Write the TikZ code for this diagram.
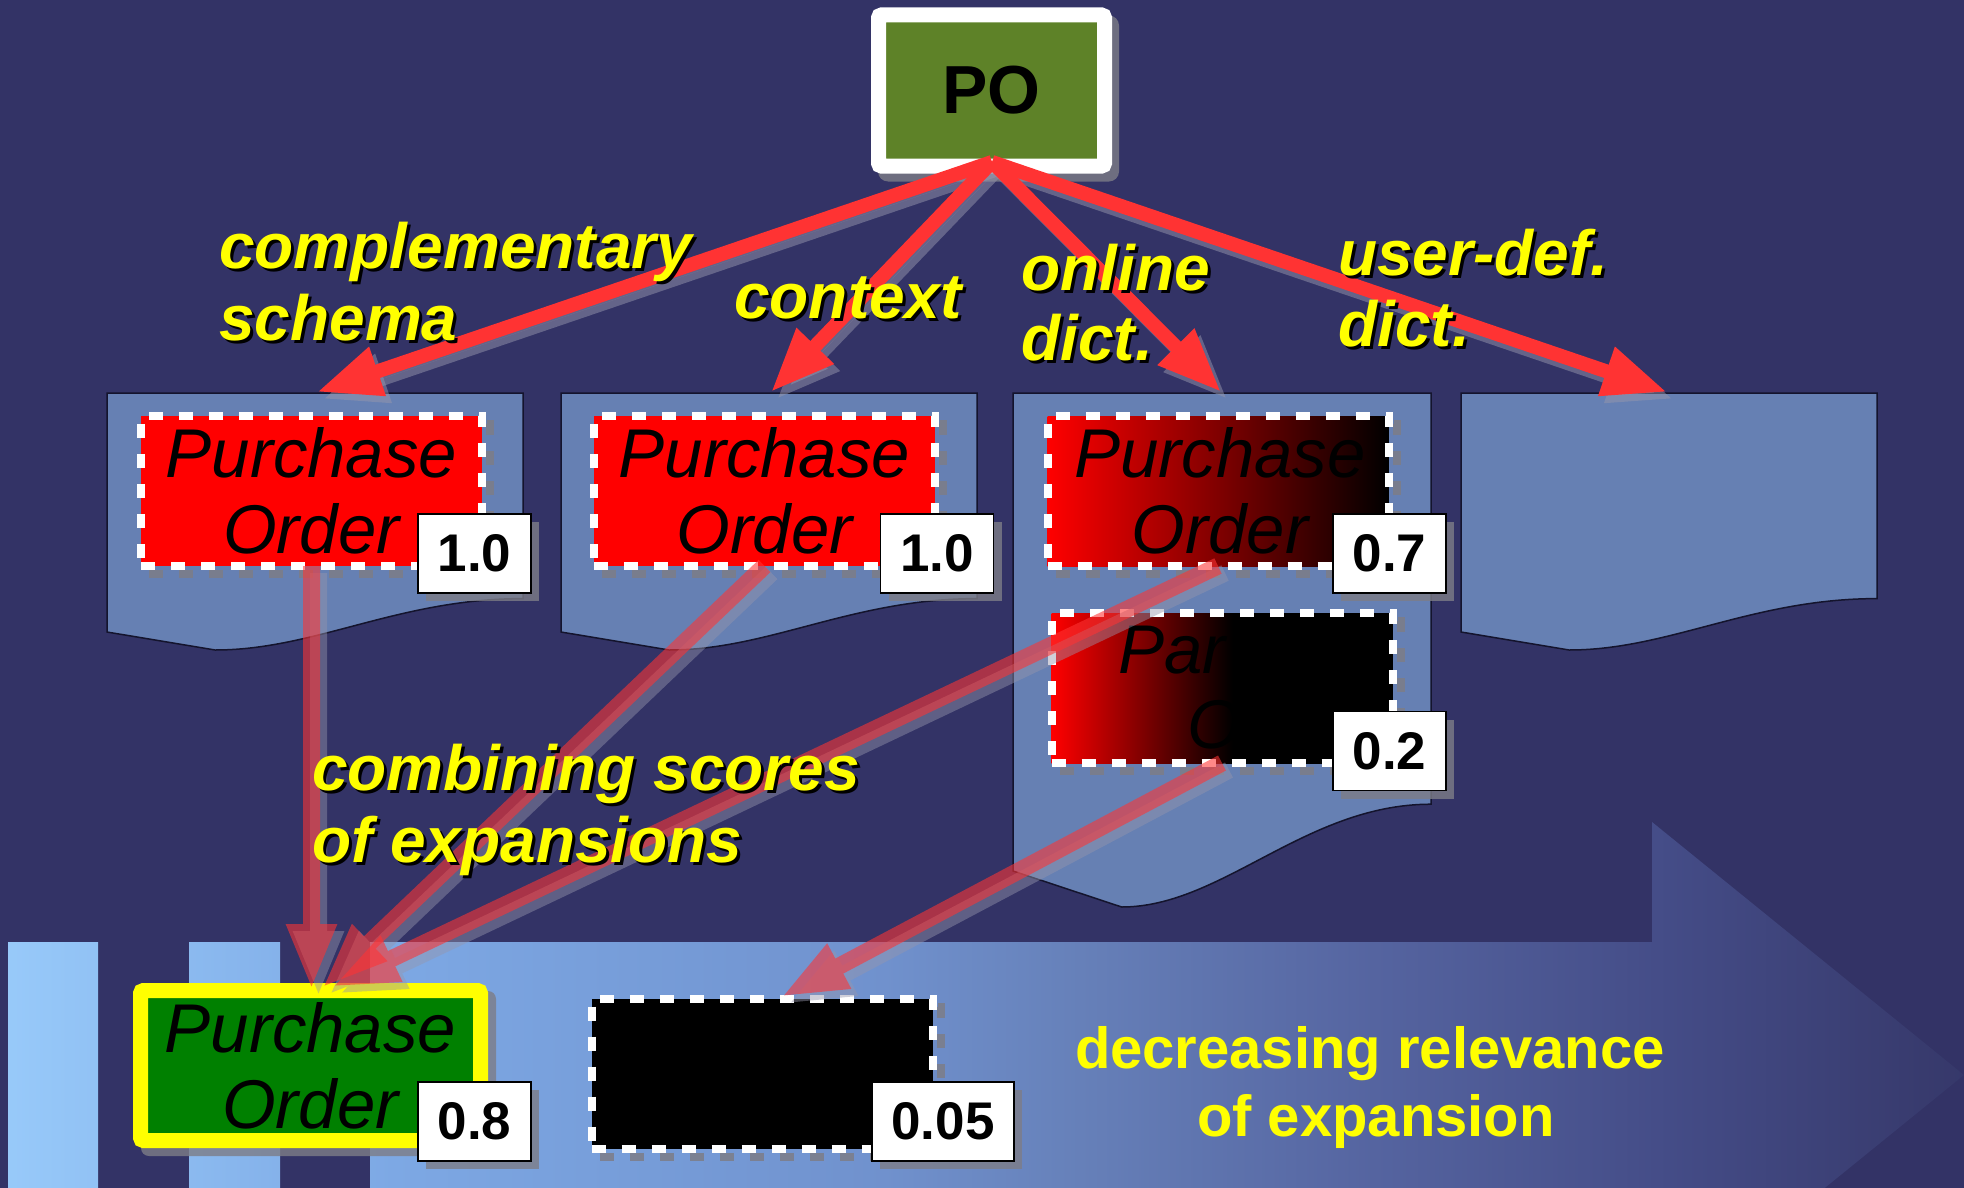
\documentclass[tikz,border=0pt]{standalone}
\usepackage{fontspec}
\setmainfont{Liberation Sans}
\usetikzlibrary{arrows.meta}

\definecolor{navy}{RGB}{51,51,102}
\definecolor{panelblue}{RGB}{102,128,179}
\definecolor{panelline}{RGB}{20,20,45}
\definecolor{poGreen}{RGB}{94,130,40}
\definecolor{resGreen}{RGB}{0,128,0}
\definecolor{arrowred}{RGB}{255,51,51}
\definecolor{boxshadow}{RGB}{125,125,135}
\definecolor{rayshadow}{RGB}{150,150,172}
\definecolor{labelyellow}{RGB}{255,255,0}

\pgfdeclarelayer{back}
\pgfdeclarelayer{shade}
\pgfdeclarelayer{front}
\pgfdeclarelayer{top}
\pgfsetlayers{back,shade,main,front,top}

% light blue fading to the background, left to right
\pgfdeclarehorizontalshading{relevance}{100bp}{%
  rgb(0bp)=(0.596,0.792,0.980);
  rgb(25bp)=(0.596,0.792,0.980);
  rgb(35bp)=(0.490,0.659,0.894);
  rgb(47.5bp)=(0.439,0.569,0.804);
  rgb(52.5bp)=(0.400,0.502,0.725);
  rgb(60bp)=(0.333,0.392,0.627);
  rgb(67.5bp)=(0.267,0.298,0.529);
  rgb(75bp)=(0.212,0.220,0.416);
  rgb(100bp)=(0.212,0.220,0.416)}

% red turning black about halfway across
\pgfdeclarehorizontalshading{redfade}{100bp}{%
  rgb(0bp)=(1,0,0); rgb(25bp)=(1,0,0);
  rgb(51.5bp)=(0,0,0); rgb(100bp)=(0,0,0)}

% yellow text with a small black drop shadow
\newcommand\shtext[1]{\makebox[0pt][l]{\hspace{3pt}\raisebox{-3pt}{\color{black}#1}}#1}

% document sheet with a wavy lower edge: left, top, width, depth
\newcommand\docpanel[4]{%
  \filldraw[docsheet] (#1,#2) -- (#1+#3,#2) -- (#1+#3,#2+0.8*#4)
    .. controls (#1+0.7*#3,#2+0.8*#4) and (#1+0.5*#3,#2+#4) .. (#1+0.26*#3,#2+#4)
    -- (#1,#2+0.93*#4) -- cycle;}

\tikzset{
  docsheet/.style={fill=panelblue, draw=panelline, line width=1.5pt},
  pobox/.style={rectangle, draw=white, line width=15pt, fill=poGreen,
    rounded corners=3pt, minimum width=226pt, minimum height=151pt,
    inner sep=0pt, font={\fontsize{68}{76}\selectfont\bfseries}},
  dashbox/.style={rectangle, inner sep=0pt, outer sep=0pt,
    minimum width=341pt, minimum height=150pt, draw=white,
    line width=8pt, dash pattern=on 14pt off 16pt},
  redbox/.style={dashbox, fill=red},
  fadebox/.style={dashbox, left color=red, right color=black},
  partbox/.style={dashbox, shade, shading=redfade},
  blackbox/.style={dashbox, fill=black},
  resultbox/.style={rectangle, draw=labelyellow, line width=15pt, fill=resGreen,
    rounded corners=3pt, minimum width=340pt, minimum height=150pt, inner sep=0pt},
  potext/.style={inner sep=0pt, anchor=base, text=black,
    font={\fontsize{69}{76}\selectfont\itshape}},
  score/.style={rectangle, draw=black, line width=1.5pt, fill=white,
    inner sep=0pt, outer sep=0pt, minimum width=113pt, minimum height=79pt,
    font={\fontsize{53}{60}\selectfont\bfseries}},
  labeltext/.style={inner sep=0pt, anchor=base west, text=labelyellow,
    font={\fontsize{64}{72}\selectfont\bfseries\itshape}},
  reltext/.style={inner sep=0pt, anchor=base, text=labelyellow,
    font={\fontsize{58}{66}\selectfont\bfseries}},
  boxshade/.style={fill=boxshadow, fill opacity=0.8},
  dashshade/.style={draw=boxshadow, draw opacity=0.85, line width=8pt,
    dash pattern=on 14pt off 16pt},
  ray/.style={draw=arrowred, line width=14pt,
    -{Triangle[length=64pt,width=48pt]}},
  rayshade/.style={ray, draw=rayshadow, fill=rayshadow, opacity=0.5,
    transform canvas={shift={(6,7)}}},
  merge/.style={draw=arrowred, line width=17pt,
    -{Triangle[length=66pt,width=46pt]}},
  mergeshade/.style={merge, draw=rayshadow, fill=rayshadow,
    transform canvas={shift={(7,7)}}},
}

\begin{document}
\begin{tikzpicture}[x=1pt,y=-1pt]
\useasboundingbox (0,0) rectangle (1964,1188);

% ---------- background, relevance arrow, document sheets ----------
\begin{pgfonlayer}{back}
  \fill[navy] (0,0) rectangle (1964,1188);
  \begin{scope}
    \clip (8,942) rectangle (98,1188)
          (189,942) rectangle (280,1188)
          (370,942) -- (1652,942) -- (1652,822) -- (1964,1075)
          -- (1652,1328) -- (1652,1188) -- (370,1188) -- cycle;
    \shade[shading=relevance] (0,800) rectangle (1964,1188);
  \end{scope}
  \docpanel{107}{393}{416}{257}
  \docpanel{561}{393}{416}{257}
  \docpanel{1013}{393}{418}{514}
  \docpanel{1461}{393}{416}{257}
\end{pgfonlayer}

% ---------- query term ----------
\node[pobox] (po) at (991.5,90.5) {PO};

% ---------- candidate elements ----------
\node[redbox]  (b1) at (311.5,491) {};
\node[redbox]  (b2) at (764.5,491) {};
\node[fadebox] (b3) at (1218,491) {};
\node[partbox] (b4) at (1222,688) {};
\node[blackbox] (b5) at (762,1073.5) {};
\node[resultbox] (b6) at (310.5,1065.5) {};

\node[potext] (t1a) at (311.5,477) {Purchase};
\node[potext] (t1b) at (311.5,553) {Order};
\node[potext] (t2a) at (764.5,477) {Purchase};
\node[potext] (t2b) at (764.5,553) {Order};
\node[potext] (t3a) at (1220,477) {Purchase};
\node[potext] (t3b) at (1220,553) {Order};
\node[potext, anchor=base west] (t4a) at (1118,673) {Par};
\node[potext, anchor=base west] (t4b) at (1187,748) {O};
\node[potext] (t6a) at (310.5,1052) {Purchase};
\node[potext] (t6b) at (310.5,1128) {Order};

% ---------- scores ----------
\node[score] (s1) at (474.5,553.5) {1.0};
\node[score] (s2) at (937,553.5) {1.0};
\node[score] (s3) at (1389.5,553.5) {0.7};
\node[score] (s4) at (1389.5,751) {0.2};
\node[score] (s5) at (474.5,1121.5) {0.8};
\node[score, minimum width=142pt] (s6) at (943,1121.5) {0.05};

% ---------- drop shadows ----------
\begin{pgfonlayer}{shade}
  \fill[boxshade, rounded corners=10pt]
    ([shift={(7,8)}]po.north west) rectangle ([shift={(7,8)}]po.south east);
  \fill[boxshade, rounded corners=8pt]
    ([shift={(8,8)}]b6.north west) rectangle ([shift={(8,8)}]b6.south east);
  \foreach \n in {b1,b2,b3,b4,b5}
    \draw[dashshade] ([shift={(8,8)}]\n.north west) rectangle ([shift={(8,8)}]\n.south east);
  \foreach \n in {s1,s2,s3,s4,s5,s6}
    \fill[boxshade] ([shift={(8,8)}]\n.north west) rectangle ([shift={(8,8)}]\n.south east);
\end{pgfonlayer}

% ---------- expansion arrows ----------
\coordinate (poFoot) at (992,162);
\coordinate (tipA) at (317,392);
\coordinate (tipB) at (771,392);
\coordinate (tipC) at (1221,392);
\coordinate (tipD) at (1667,392);
\coordinate (endA) at (311.5,990);
\coordinate (endB) at (322,988);
\coordinate (endC) at (332,987);
\coordinate (endD) at (781,997);

\begin{pgfonlayer}{front}
  \foreach \t in {tipA,tipB,tipC,tipD}
    \draw[rayshade] (poFoot) -- (\t);
  \foreach \t in {tipA,tipB,tipC,tipD}
    \draw[ray] (poFoot) -- (\t);

  \begin{scope}[transparency group, opacity=0.45]
    \draw[mergeshade] (b1.south) -- (endA);
    \draw[mergeshade] (b2.south) -- (endB);
    \draw[mergeshade] (b3.south) -- (endC);
    \draw[mergeshade] (b4.south) -- (endD);
  \end{scope}
  \begin{scope}[transparency group, opacity=0.58]
    \draw[merge] (b1.south) -- (endA);
  \end{scope}
  \begin{scope}[transparency group, opacity=0.58]
    \draw[merge] (b2.south) -- (endB);
  \end{scope}
  \begin{scope}[transparency group, opacity=0.58]
    \draw[merge] (b3.south) -- (endC);
  \end{scope}
  \begin{scope}[transparency group, opacity=0.58]
    \draw[merge] (b4.south) -- (endD);
  \end{scope}
\end{pgfonlayer}

% ---------- labels ----------
\begin{pgfonlayer}{top}
  \node[labeltext] (lcomp1) at (219,268) {\shtext{complementary}};
  \node[labeltext] (lcomp2) at (219,340) {\shtext{schema}};
  \node[labeltext] (lctx)   at (734,318) {\shtext{context}};
  \node[labeltext] (lonl1)  at (1021,290) {\shtext{online}};
  \node[labeltext] (lonl2)  at (1021,360) {\shtext{dict.}};
  \node[labeltext] (lusr1)  at (1338,275) {\shtext{user-def.}};
  \node[labeltext] (lusr2)  at (1338,346) {\shtext{dict.}};
  \node[labeltext] (lcmb1)  at (312,790) {\shtext{combining scores}};
  \node[labeltext] (lcmb2)  at (312,862) {\shtext{of expansions}};
  \node[reltext] (lrel1) at (1370,1068) {decreasing relevance};
  \node[reltext] (lrel2) at (1376,1136) {of expansion};
\end{pgfonlayer}
\end{tikzpicture}
\end{document}
